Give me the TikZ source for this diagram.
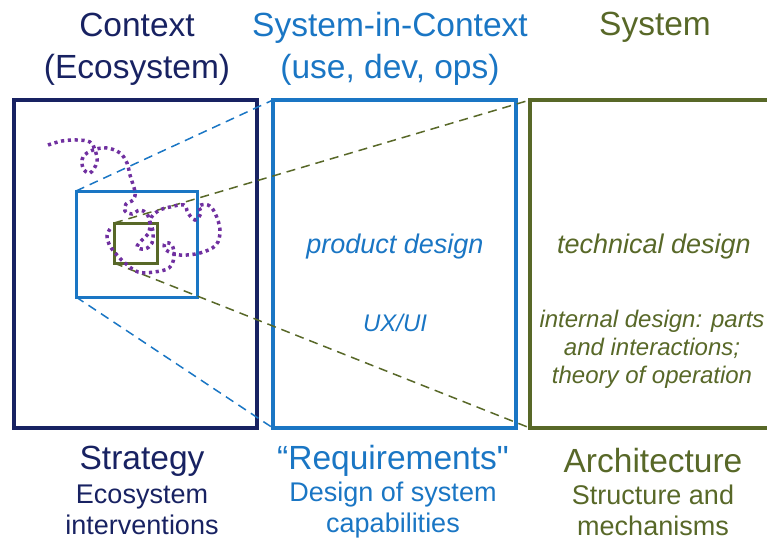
\documentclass[tikz,border=0pt]{standalone}
\usepackage{fontspec}
\setmainfont{Liberation Sans}[Ligatures=TeXOff]
\usepackage{tikz}
\usetikzlibrary{positioning}
\usepackage{xcolor}
\definecolor{navyc}{RGB}{24,34,98}
\definecolor{bluec}{RGB}{26,118,196}
\definecolor{olivec}{RGB}{88,104,40}
\definecolor{purplec}{RGB}{112,48,160}

\begin{document}
\begin{tikzpicture}[x=1pt,y=-1pt,
  frame/.style={draw,line width=4pt,inner sep=0pt,outer sep=0pt},
  inset/.style={frame,line width=3pt},
  zoomline/.style={dashed,line width=1.5pt,dash pattern=on 9pt off 6pt},
  wander/.style={purplec,line width=3.5pt,dash pattern=on 3.2pt off 3.6pt},
  head/.style={font=\fontsize{33.5}{42}\selectfont,align=center},
  sub/.style={font=\fontsize{27}{31}\selectfont,align=center},
  note/.style={font=\fontsize{27}{32}\selectfont\itshape,align=center},
  smallnote/.style={font=\fontsize{24}{28}\selectfont\itshape,align=center}]
\clip (0,0) rectangle (767,541);

% the three views
\node[frame,draw=navyc,minimum width=243pt,minimum height=328pt] (ctx) at (135.5,264) {};
\node[frame,draw=bluec,minimum width=243pt,minimum height=328pt] (sic) at (394.5,264) {};
\node[frame,draw=olivec,minimum width=260pt,minimum height=328pt] (sys) at (660,264) {};

% nested boxes inside the ecosystem
\node[inset,draw=bluec,minimum width=121pt,minimum height=106pt] (zoom) at (136.5,244) {};
\node[inset,draw=olivec,minimum width=43pt,minimum height=40pt] (core) at (135.5,243) {};

\draw[zoomline,bluec] (zoom.north west) -- (sic.north west);
\draw[zoomline,bluec] (zoom.south west) -- (sic.south west);
\draw[zoomline,olivec] (core.north west) -- (sys.north west);
\draw[zoomline,olivec] (core.south west) -- (sys.south west);

\draw[wander] plot[smooth,tension=0.6] coordinates {
  (48,145) (62,141) (77,140) (90,142) (95,150) (97,162) (90,173) (83,168)
  (83,157) (93,150) (107,148) (120,153) (127,163) (130,175) (135,192)
  (133,200) (126,204) (125,211) (132,214) (140,210) (147,214) (150,224)
  (148,234) (142,240) (137,247) (145,249) (152,243) (153,231) (150,220)
  (158,211) (170,207) (184,205) (188,213) (195,220) (201,213) (199,206)
  (208,205) (215,213) (220,230) (216,245) (200,253) (180,255) (166,250)
  (165,243) (172,245) (174,257) (169,268) (154,272) (138,272) (125,263)
  (117,255) (110,246) (107,236) (110,229)};

% column headings
\node[head,text=navyc] (ctxhead) at (137,49) {Context\\(Ecosystem)};
\node[head,text=bluec] (sichead) at (390,49) {System-in-Context\\(use, dev, ops)};
\node[head,text=olivec] (syshead) at (655,27) {System};

% inside the frames
\node[note,text=bluec] (product) at (395,247) {product design};
\node[smallnote,text=bluec] (uxui) at (395,323) {UX/UI};
\node[note,text=olivec] (technical) at (654,247) {technical design};
\node[smallnote,text=olivec] (internal) at (652,349) {internal design: parts\\and interactions;\\theory of operation};

% column footers
\node[head,text=navyc] (strategy) at (142,461) {Strategy};
\node[sub,text=navyc] (strategysub) at (142,510) {Ecosystem\\interventions};
\node[head,text=bluec] (reqs) at (393,461) {“Requirements"};
\node[sub,text=bluec] (reqssub) at (393,510) {Design of system\\capabilities};
\node[head,text=olivec] (arch) at (653,461) {Architecture};
\node[sub,text=olivec] (archsub) at (653,510) {Structure and\\mechanisms};
\end{tikzpicture}
\end{document}
